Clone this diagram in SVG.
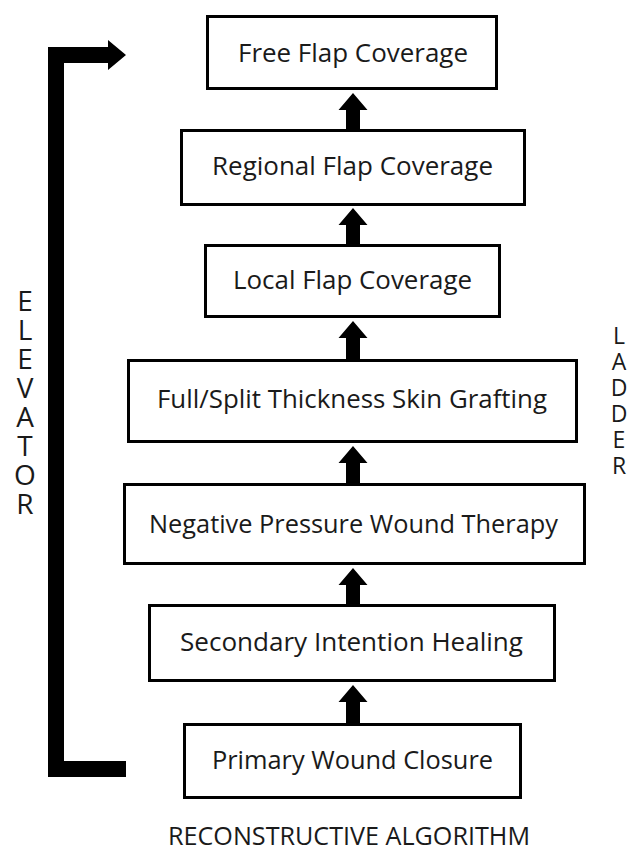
<svg xmlns="http://www.w3.org/2000/svg" width="635" height="851" viewBox="0 0 635 851">
<style>
.box{fill:#fff;stroke:#000;stroke-width:3}
.lbl{font-family:"Open Sans","Noto Sans","Liberation Sans",sans-serif;font-size:25px;fill:#1a1a1a;text-anchor:middle}
.side{font-family:"Open Sans","Noto Sans","Liberation Sans",sans-serif;fill:#1a1a1a;writing-mode:vertical-rl;text-orientation:upright}
.arr{fill:#000}
</style>
<rect width="635" height="851" fill="#fff"/>
<g id="connectors">
<path id="elevator-arrow" class="arr" d="M48,47 L108,47 L108,40 L126,55 L108,70 L108,63 L64,63 L64,761 L126,761 L126,777 L48,777 Z"/>
<path class="arr" d="M353,93 L367.5,110 L360,110 L360,130 L346,130 L346,110 L338.5,110 Z"/>
<path class="arr" d="M353,208 L367.5,225 L360,225 L360,245 L346,245 L346,225 L338.5,225 Z"/>
<path class="arr" d="M353,321 L367.5,338 L360,338 L360,360 L346,360 L346,338 L338.5,338 Z"/>
<path class="arr" d="M353,446 L367.5,463 L360,463 L360,484 L346,484 L346,463 L338.5,463 Z"/>
<path class="arr" d="M353,568 L367.5,585 L360,585 L360,605 L346,605 L346,585 L338.5,585 Z"/>
<path class="arr" d="M353,685 L367.5,702 L360,702 L360,724 L346,724 L346,702 L338.5,702 Z"/>
</g>
<g id="free-flap">
<rect class="box" x="207.5" y="16.5" width="289" height="72"/>
<text class="lbl" x="353" y="62" textLength="230" lengthAdjust="spacingAndGlyphs">Free Flap Coverage</text>
</g>
<g id="regional-flap">
<rect class="box" x="181.5" y="130.5" width="343" height="74"/>
<text class="lbl" x="352.5" y="175" textLength="281" lengthAdjust="spacingAndGlyphs">Regional Flap Coverage</text>
</g>
<g id="local-flap">
<rect class="box" x="205.5" y="245.5" width="294" height="71"/>
<text class="lbl" x="352.5" y="289" textLength="239" lengthAdjust="spacingAndGlyphs">Local Flap Coverage</text>
</g>
<g id="skin-grafting">
<rect class="box" x="128.5" y="360.5" width="448" height="81"/>
<text class="lbl" x="352" y="408" textLength="390" lengthAdjust="spacingAndGlyphs">Full/Split Thickness Skin Grafting</text>
</g>
<g id="npwt">
<rect class="box" x="124.5" y="484.5" width="460" height="79"/>
<text class="lbl" x="353.5" y="533" textLength="409" lengthAdjust="spacingAndGlyphs">Negative Pressure Wound Therapy</text>
</g>
<g id="secondary-intention">
<rect class="box" x="149.5" y="605.5" width="405" height="75"/>
<text class="lbl" x="351.5" y="651" textLength="343" lengthAdjust="spacingAndGlyphs">Secondary Intention Healing</text>
</g>
<g id="primary-closure">
<rect class="box" x="184.5" y="724.5" width="336" height="73"/>
<text class="lbl" x="352.5" y="769" textLength="281" lengthAdjust="spacingAndGlyphs">Primary Wound Closure</text>
</g>
<g id="title">
<text class="lbl" x="349" y="845" textLength="362" lengthAdjust="spacingAndGlyphs">RECONSTRUCTIVE ALGORITHM</text>
</g>
<g id="elevator-label">
<text class="side" x="25" y="281" font-size="28" letter-spacing="-9">ELEVATOR</text>
</g>
<g id="ladder-label">
<text class="side" x="619" y="318.5" font-size="23" letter-spacing="-6">LADDER</text>
</g>
</svg>
